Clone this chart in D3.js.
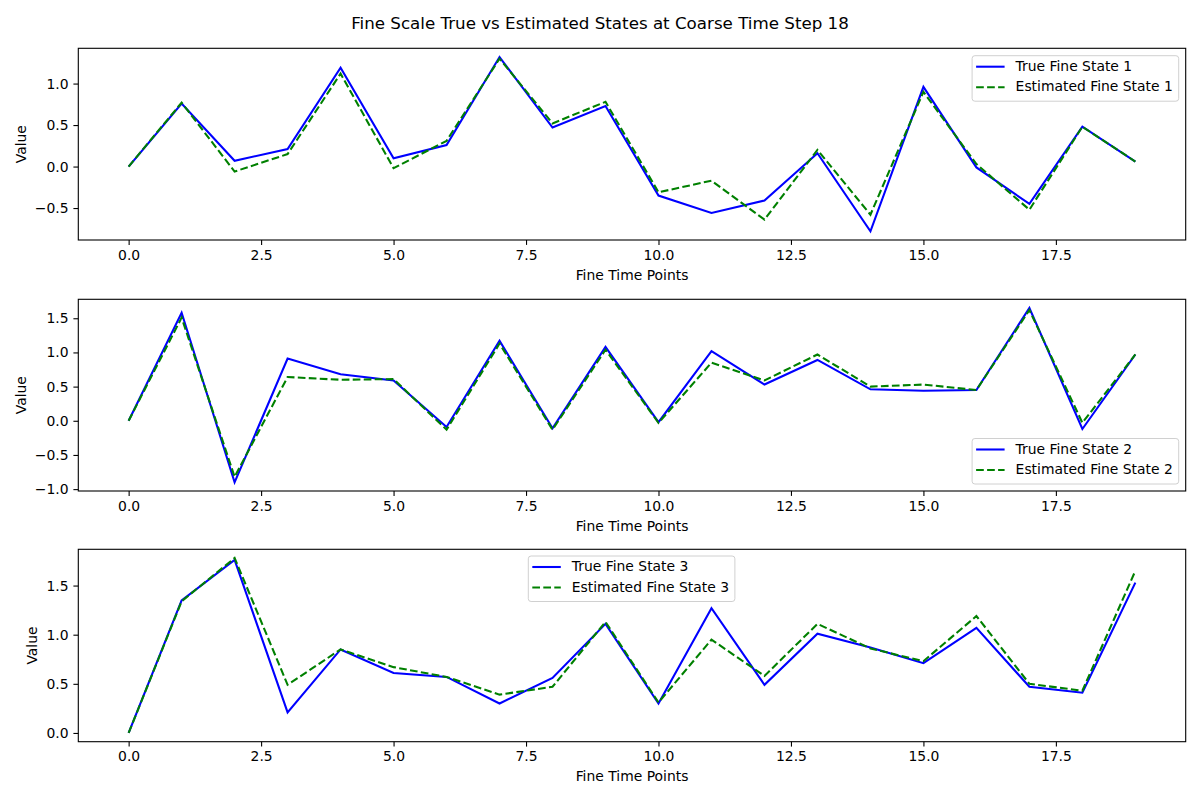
<!DOCTYPE html>
<head>
<meta charset="utf-8">
<style>
body { margin: 0; background: #fff; }
text { font-family: "DejaVu Sans", sans-serif; fill: #000; }
.tick line, .domain { stroke: #000; }
</style>
</head>
<body>
<div class="viz"></div>
<script src="https://cdnjs.cloudflare.com/ajax/libs/d3/7.8.5/d3.min.js"></script>
<script>
const timePoints = d3.range(20);
const xTicks = [0, 2.5, 5, 7.5, 10, 12.5, 15, 17.5];

const trueState1 = [0, 0.76, 0.07, 0.21, 1.19, 0.10, 0.26, 1.32, 0.47, 0.73, -0.35, -0.56, -0.41, 0.16, -0.78, 0.96, -0.01, -0.45, 0.48, 0.06];
const estState1  = [0, 0.77, -0.06, 0.15, 1.12, -0.02, 0.31, 1.30, 0.52, 0.78, -0.31, -0.17, -0.64, 0.20, -0.58, 0.90, 0.03, -0.52, 0.48, 0.06];

const trueState2 = [0, 1.58, -0.90, 0.91, 0.68, 0.59, -0.09, 1.17, -0.11, 1.08, -0.02, 1.02, 0.53, 0.89, 0.46, 0.44, 0.45, 1.65, -0.12, 0.97];
const estState2  = [0, 1.51, -0.82, 0.64, 0.60, 0.61, -0.13, 1.13, -0.13, 1.04, -0.03, 0.85, 0.59, 0.97, 0.50, 0.53, 0.45, 1.62, -0.03, 0.97];

const trueState3 = [0, 1.35, 1.76, 0.21, 0.85, 0.61, 0.57, 0.30, 0.56, 1.11, 0.30, 1.27, 0.49, 1.01, 0.87, 0.71, 1.07, 0.47, 0.41, 1.53];
const estState3  = [0, 1.34, 1.78, 0.49, 0.85, 0.67, 0.57, 0.39, 0.47, 1.13, 0.31, 0.95, 0.58, 1.11, 0.86, 0.73, 1.19, 0.50, 0.43, 1.65];

const yTicks1 = [-0.5, 0, 0.5, 1.0];
const yTicks2 = [-1.0, -0.5, 0, 0.5, 1.0, 1.5];
const yTicks3 = [0, 0.5, 1.0, 1.5];

const panels = [
    { truth: trueState1, est: estState1, ticks: yTicks1, n: 1, top: 48.3, bottom: 240, legend: "upper right" },
    { truth: trueState2, est: estState2, ticks: yTicks2, n: 2, top: 299.3, bottom: 491, legend: "lower right" },
    { truth: trueState3, est: estState3, ticks: yTicks3, n: 3, top: 549.3, bottom: 741.7, legend: "upper center" }
];

const W = 1200, H = 800;
const left = 78.3, right = 1185.7;
const fmt = d => d3.format(".1f")(d).replace("-", "\u2212");

const svg = d3.select(".viz").append("svg")
    .attr("width", W).attr("height", H);

svg.append("text")
    .attr("x", W / 2).attr("y", 24)
    .attr("text-anchor", "middle").attr("dominant-baseline", "middle")
    .style("font-size", "16.7px")
    .text("Fine Scale True vs Estimated States at Coarse Time Step 18");

const xScale = d3.scaleLinear().domain([-0.95, 19.95]).range([left, right]);

panels.forEach(function(p) {
    const all = p.truth.concat(p.est);
    const lo = d3.min(all), hi = d3.max(all), pad = (hi - lo) * 0.05;
    const yScale = d3.scaleLinear().domain([lo - pad, hi + pad]).range([p.bottom, p.top]);

    const g = svg.append("g");

    const line = d3.line()
        .x((d, i) => xScale(timePoints[i]))
        .y(d => yScale(d));

    g.append("path").datum(p.truth)
        .attr("d", line).attr("fill", "none")
        .attr("stroke", "blue").attr("stroke-width", 2.08);
    g.append("path").datum(p.est)
        .attr("d", line).attr("fill", "none")
        .attr("stroke", "green").attr("stroke-width", 2.08)
        .attr("stroke-dasharray", "7.7,3.3");

    // frame
    g.append("rect")
        .attr("x", left).attr("y", p.top)
        .attr("width", right - left).attr("height", p.bottom - p.top)
        .attr("fill", "none").attr("stroke", "#000").attr("stroke-width", 1.1);

    const xAxis = d3.axisBottom(xScale).tickValues(xTicks).tickFormat(fmt)
        .tickSize(4.9).tickPadding(4.9);
    const xg = g.append("g")
        .attr("transform", "translate(0," + p.bottom + ")")
        .call(xAxis);
    xg.select(".domain").remove();
    xg.selectAll("text").style("font-size", "13.9px");
    xg.selectAll("line").attr("stroke-width", 1.1);

    const yAxis = d3.axisLeft(yScale).tickValues(p.ticks).tickFormat(fmt)
        .tickSize(4.9).tickPadding(4.9);
    const yg = g.append("g")
        .attr("transform", "translate(" + left + ",0)")
        .call(yAxis);
    yg.select(".domain").remove();
    yg.selectAll("text").style("font-size", "13.9px");
    yg.selectAll("line").attr("stroke-width", 1.1);

    g.append("text")
        .attr("x", (left + right) / 2).attr("y", p.bottom + 35.5)
        .attr("text-anchor", "middle").attr("dominant-baseline", "middle")
        .style("font-size", "13.9px")
        .text("Fine Time Points");

    const yw = yg.node().getBBox().width;
    const lx = left - yw - 9;
    g.append("text")
        .attr("transform", "translate(" + lx + "," + ((p.top + p.bottom) / 2) + ") rotate(-90)")
        .attr("text-anchor", "middle")
        .style("font-size", "13.9px")
        .text("Value");

    // legend
    const lw = 206.6, lh = 45.5;
    let lxp, lyp;
    if (p.legend === "upper right") { lxp = right - 7 - lw; lyp = p.top + 7.4; }
    else if (p.legend === "lower right") { lxp = right - 7 - lw; lyp = p.bottom - 7 - lh; }
    else { lxp = 528.3; lyp = p.top + 6.7; }
    const lg = g.append("g").attr("transform", "translate(" + lxp + "," + lyp + ")");
    lg.append("rect")
        .attr("width", lw).attr("height", lh).attr("rx", 2.8)
        .attr("fill", "#fff").attr("fill-opacity", 0.8)
        .attr("stroke", "#d0d0d0").attr("stroke-width", 1);
    const entries = [
        { label: "True Fine State " + p.n, color: "blue", dash: null },
        { label: "Estimated Fine State " + p.n, color: "green", dash: "7.7,3.3" }
    ];
    entries.forEach(function(e, i) {
        const cy = 11 + i * 20.5;
        lg.append("line")
            .attr("x1", 4).attr("x2", 32.5).attr("y1", cy).attr("y2", cy)
            .attr("stroke", e.color).attr("stroke-width", 2.08)
            .attr("stroke-dasharray", e.dash);
        lg.append("text")
            .attr("x", 43.5).attr("y", cy)
            .attr("dominant-baseline", "middle")
            .style("font-size", "13.9px")
            .text(e.label);
    });
});
</script>
</body>
